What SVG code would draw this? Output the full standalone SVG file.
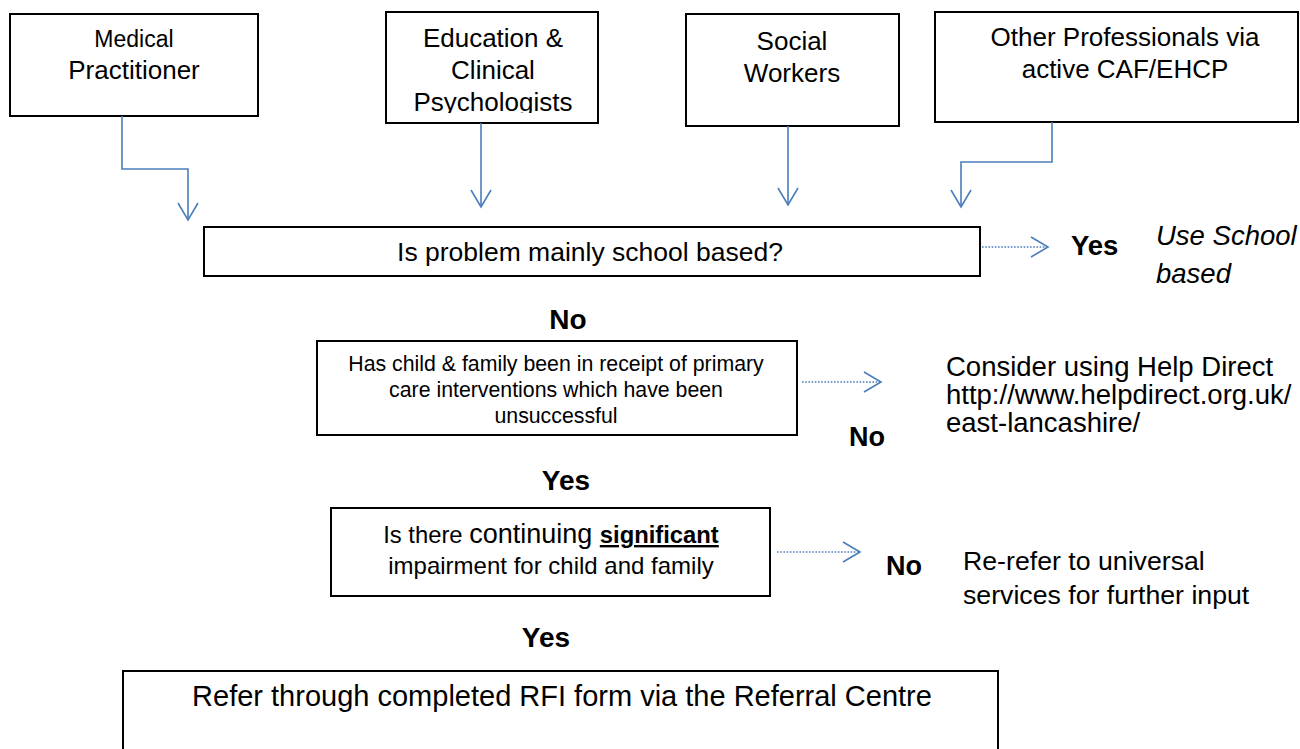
<svg xmlns="http://www.w3.org/2000/svg" width="1300" height="749" viewBox="0 0 1300 749">
<style>
text{font-family:"Liberation Sans",Arial,sans-serif;fill:#000}
.box{fill:#fff;stroke:#000;stroke-width:2}
.c{text-anchor:middle}
.b{font-weight:bold}
.conn{fill:none;stroke:#4a7ebb;stroke-width:1.6}
.dot{fill:none;stroke:#4a7ebb;stroke-width:1.6;stroke-dasharray:1.6 1.6}
</style>
<defs>
<marker id="ah" markerUnits="userSpaceOnUse" markerWidth="22" markerHeight="24" viewBox="0 0 22 24" refX="18" refY="12" orient="auto">
<path d="M1,2 L18,12 L1,22" fill="none" stroke="#4a7ebb" stroke-width="1.6"/>
</marker>
<clipPath id="clipEdu"><rect x="386" y="12" width="212" height="101"/></clipPath>
</defs>
<rect width="1300" height="749" fill="#fff"/>

<g id="medical">
<rect class="box" x="10" y="14" width="248" height="102"/>
<text class="c" x="134" y="47" font-size="23">Medical</text>
<text class="c" x="134" y="79" font-size="26">Practitioner</text>
</g>
<g id="education">
<rect class="box" x="386" y="12" width="212" height="111"/>
<g clip-path="url(#clipEdu)">
<text class="c" x="493" y="47" font-size="26">Education &amp;</text>
<text class="c" x="493" y="79" font-size="26">Clinical</text>
<text class="c" x="493" y="111" font-size="26">Psychologists</text>
</g>
</g>
<g id="social">
<rect class="box" x="686" y="14" width="213" height="112"/>
<text class="c" x="792" y="50" font-size="26">Social</text>
<text class="c" x="792" y="82" font-size="26">Workers</text>
</g>
<g id="other">
<rect class="box" x="935" y="12" width="363" height="110"/>
<text class="c" x="1125" y="46" font-size="26">Other Professionals via</text>
<text class="c" x="1125" y="78" font-size="26">active CAF/EHCP</text>
</g>

<g id="q1">
<rect class="box" x="204" y="227" width="776" height="49"/>
<text class="c" x="590" y="261" font-size="26.5">Is problem mainly school based?</text>
</g>
<g id="q1-yes">
<text class="b" x="1071" y="255" font-size="27.5">Yes</text>
<text x="1156" y="245" font-style="italic" font-size="27.5">Use School</text>
<text x="1156" y="283" font-style="italic" font-size="27.5">based</text>
</g>
<text class="c b" x="568" y="329" font-size="28">No</text>

<g id="q2">
<rect class="box" x="317" y="341" width="480" height="94"/>
<text class="c" x="556" y="371" font-size="21.3">Has child &amp; family been in receipt of primary</text>
<text class="c" x="556" y="397" font-size="21.3">care interventions which have been</text>
<text class="c" x="556" y="423" font-size="21.3">unsuccessful</text>
</g>
<text class="c b" x="867" y="446" font-size="27">No</text>
<g id="q2-no">
<text x="946" y="376" font-size="27.5">Consider using Help Direct</text>
<text x="946" y="404" font-size="27.5">http://www.helpdirect.org.uk/</text>
<text x="946" y="432" font-size="27.5">east-lancashire/</text>
</g>
<text class="c b" x="566" y="490" font-size="28">Yes</text>

<g id="q3">
<rect class="box" x="331" y="508" width="439" height="88"/>
<text class="c" x="551" y="543"><tspan font-size="23.8">Is there </tspan><tspan font-size="27">continuing </tspan><tspan font-size="23.8" font-weight="bold" text-decoration="underline">significant</tspan></text>
<text class="c" x="551" y="574" font-size="24">impairment for child and family</text>
</g>
<text class="c b" x="904" y="575" font-size="27">No</text>
<g id="q3-no">
<text x="963" y="570" font-size="26.7">Re-refer to universal</text>
<text x="963" y="604" font-size="26.7">services for further input</text>
</g>
<text class="c b" x="546" y="647" font-size="28">Yes</text>

<g id="refer">
<rect class="box" x="123" y="671" width="875" height="100"/>
<text class="c" x="562" y="706" font-size="29">Refer through completed RFI form via the Referral Centre</text>
</g>

<g id="connectors">
<path class="conn" d="M122,116 V169 H188 V220" marker-end="url(#ah)"/>
<path class="conn" d="M481,123 V207" marker-end="url(#ah)"/>
<path class="conn" d="M788,126 V205" marker-end="url(#ah)"/>
<path class="conn" d="M1052,122 V162 H961 V207" marker-end="url(#ah)"/>
<path class="dot" d="M982,247 H1048" marker-end="url(#ah)"/>
<path class="dot" d="M802,382 H881" marker-end="url(#ah)"/>
<path class="dot" d="M777,552 H860" marker-end="url(#ah)"/>
</g>
</svg>
